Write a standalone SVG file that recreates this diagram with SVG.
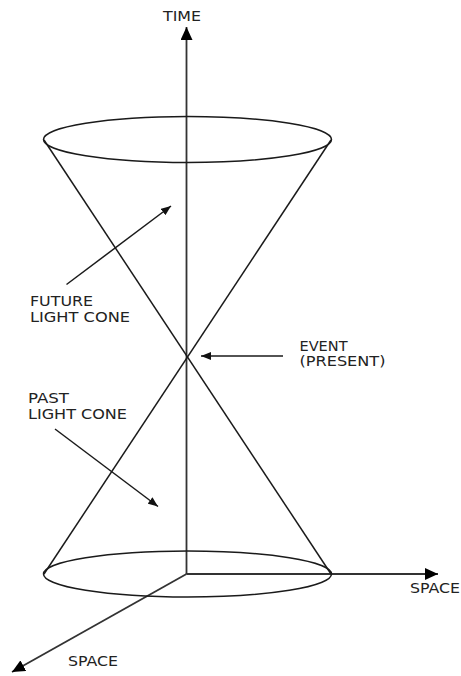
<svg xmlns="http://www.w3.org/2000/svg" width="461" height="676" viewBox="0 0 461 676">
<style>
.ln{fill:none;stroke:#1a1a1a;stroke-width:1.5}
.ax{fill:none;stroke:#333;stroke-width:1.8}
.t{font-family:"DejaVu Sans",sans-serif;font-size:14px;fill:#222}
</style>
<defs>
<marker id="big" viewBox="0 0 13 12" refX="13" refY="6" markerWidth="13" markerHeight="12" markerUnits="userSpaceOnUse" orient="auto">
<path d="M0,0 L13,6 L0,12 z" fill="#000"/>
</marker>
<marker id="small" viewBox="0 0 10 8" refX="10" refY="4" markerWidth="10" markerHeight="8" markerUnits="userSpaceOnUse" orient="auto">
<path d="M0,0 L10,4 L0,8 z" fill="#111"/>
</marker>
</defs>
<rect width="461" height="676" fill="#fff"/>
<g id="connectors">
<line class="ax" x1="186.5" y1="574" x2="186.5" y2="27" marker-end="url(#big)"/>
<line class="ax" x1="186.5" y1="574" x2="438" y2="574" marker-end="url(#big)"/>
<line class="ax" x1="186.5" y1="574" x2="12" y2="672" marker-end="url(#big)"/>
<line class="ln" x1="44" y1="140" x2="331" y2="574"/>
<line class="ln" x1="331" y1="140" x2="44" y2="574"/>
<line class="ln" x1="66.5" y1="284.5" x2="171" y2="206" marker-end="url(#small)"/>
<line class="ln" x1="283" y1="356" x2="201" y2="356" marker-end="url(#small)"/>
<line class="ln" x1="55" y1="429" x2="158" y2="506.5" marker-end="url(#small)"/>
</g>
<g id="future-cone-top">
<ellipse class="ln" cx="187.5" cy="139.5" rx="144" ry="23"/>
</g>
<g id="past-cone-bottom">
<ellipse class="ln" cx="187.5" cy="574" rx="144" ry="23"/>
</g>
<g id="label-time">
<text class="t" x="163" y="20.5" textLength="38" lengthAdjust="spacingAndGlyphs">TIME</text>
</g>
<g id="label-future">
<text class="t" x="30" y="305.5" textLength="63" lengthAdjust="spacingAndGlyphs">FUTURE</text>
<text class="t" x="30" y="321.5" textLength="100" lengthAdjust="spacingAndGlyphs">LIGHT CONE</text>
</g>
<g id="label-event">
<text class="t" x="299.5" y="350.5" textLength="48" lengthAdjust="spacingAndGlyphs">EVENT</text>
<text class="t" x="299.5" y="366" textLength="86" lengthAdjust="spacingAndGlyphs">(PRESENT)</text>
</g>
<g id="label-past">
<text class="t" x="28" y="402.5" textLength="41" lengthAdjust="spacingAndGlyphs">PAST</text>
<text class="t" x="28" y="419" textLength="99" lengthAdjust="spacingAndGlyphs">LIGHT CONE</text>
</g>
<g id="label-space-x">
<text class="t" x="410" y="593" textLength="50" lengthAdjust="spacingAndGlyphs">SPACE</text>
</g>
<g id="label-space-y">
<text class="t" x="68" y="666" textLength="50" lengthAdjust="spacingAndGlyphs">SPACE</text>
</g>
</svg>
